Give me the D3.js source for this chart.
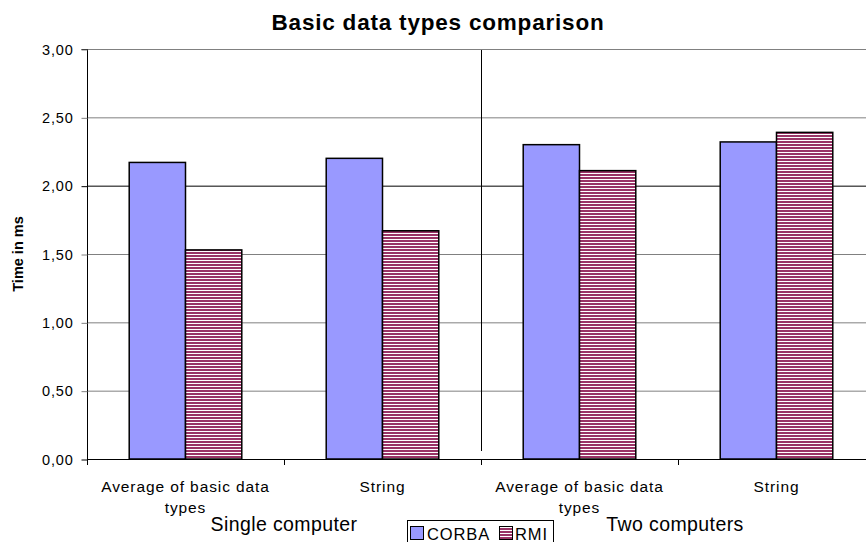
<!DOCTYPE html>
<html>
<head>
<meta charset="utf-8">
<script src="https://cdn.jsdelivr.net/npm/d3@7"></script>
<style>
  html, body { margin: 0; padding: 0; background: #fff; }
  svg { display: block; font-family: Arial, "Liberation Sans", sans-serif; }
</style>
</head>
<body>
<svg id="chart" width="866" height="542"></svg>
<script>
// Measurements (ms) per test case
const categories = ["Average of basic data types", "String", "Average of basic data types", "String"];
const groups = ["Single computer", "Two computers"];
const seriesNames = ["CORBA", "RMI"];
const corbaValues = [2.17, 2.20, 2.30, 2.32];
const rmiValues = [1.53, 1.67, 2.11, 2.39];
const yTicks = [0, 0.5, 1, 1.5, 2, 2.5, 3];

const svg = d3.select("#chart");
const W = 866, H = 542;
const plot = { left: 87, right: 875, top: 49, bottom: 459 };

const x = d3.scaleBand().domain(d3.range(categories.length)).range([plot.left, plot.right]).padding(0);
const y = d3.scaleLinear().domain([0, 3]).range([plot.bottom, plot.top]);

// Horizontal stripe fill for the RMI series
const defs = svg.append("defs");
const pat = defs.append("pattern").attr("id", "stripes")
  .attr("patternUnits", "userSpaceOnUse").attr("width", 8).attr("height", 3);
pat.append("rect").attr("width", 8).attr("height", 3).attr("fill", "#ffffff");
pat.append("rect").attr("y", 0).attr("width", 8).attr("height", 2).attr("fill", "#993366");

// Gridlines
svg.append("g").selectAll("line").data(yTicks.filter(d => d > 0)).join("line")
  .attr("x1", plot.left).attr("x2", plot.right)
  .attr("y1", d => y(d) + 0.5).attr("y2", d => y(d) + 0.5)
  .attr("stroke", d => d === 2 ? "#000" : "#808080").attr("stroke-width", 1);

// Y axis
const yAxis = d3.axisLeft(y).tickValues(yTicks).tickSize(6).tickPadding(8)
  .tickFormat(d => d3.format(".2f")(d).replace(".", ","));
const gy = svg.append("g").attr("transform", `translate(${plot.left + 0.5},0.5)`).call(yAxis);
gy.select(".domain").attr("stroke", "#000").attr("d", `M-6,${plot.top}H0V${plot.bottom}`);
gy.selectAll(".tick line").attr("stroke", d => (d === 2 || d === 0) ? "#000" : "#808080");
gy.selectAll(".tick text").attr("font-size", 14.5).attr("fill", "#000")
  .attr("font-family", "Arial, 'Liberation Sans', sans-serif").style("letter-spacing", "0.8px");

// Bars
const inner = d3.scaleBand().domain([0, 1]).range([0, x.bandwidth()]).paddingInner(0).paddingOuter(0.75);
const barData = [];
categories.forEach((c, i) => {
  barData.push({ i, s: 0, v: corbaValues[i] });
  barData.push({ i, s: 1, v: rmiValues[i] });
});
svg.append("g").selectAll("rect").data(barData).join("rect")
  .attr("x", d => x(d.i) + inner(d.s))
  .attr("y", d => y(d.v))
  .attr("width", inner.bandwidth())
  .attr("height", d => y(0) - y(d.v))
  .attr("fill", d => d.s === 0 ? "#9999FF" : "url(#stripes)")
  .attr("stroke", "#000").attr("stroke-width", 1.5);

// X axis
svg.append("line").attr("x1", plot.left).attr("x2", W)
  .attr("y1", plot.bottom + 0.5).attr("y2", plot.bottom + 0.5).attr("stroke", "#000");
svg.append("g").selectAll("line").data(d3.range(categories.length + 1)).join("line")
  .attr("x1", i => plot.left + i * x.bandwidth() + 0.5)
  .attr("x2", i => plot.left + i * x.bandwidth() + 0.5)
  .attr("y1", plot.bottom).attr("y2", plot.bottom + 6).attr("stroke", "#000");

// Separator between the two setups
svg.append("line")
  .attr("x1", x(2) + 0.5).attr("x2", x(2) + 0.5)
  .attr("y1", 50).attr("y2", 451).attr("stroke", "#000");

// Category labels (wrapped)
const catG = svg.append("g").attr("font-size", 15.5).attr("fill", "#000")
  .attr("text-anchor", "middle").style("letter-spacing", "0.9px");
categories.forEach((c, i) => {
  const cx = x(i) + x.bandwidth() / 2;
  const lines = c.length > 10 ? [c.replace(/ types$/, ""), "types"] : [c];
  lines.forEach((ln, k) => {
    catG.append("text").attr("x", cx).attr("y", 492 + k * 21).text(ln);
  });
});

// Group labels
const groupCenters = [284, 675];
groups.forEach((g, k) => {
  svg.append("text").attr("x", groupCenters[k]).attr("y", 531)
    .attr("text-anchor", "middle").attr("font-size", 19.5).attr("fill", "#000")
    .style("letter-spacing", "0.4px").text(g);
});

// Title
svg.append("text").attr("x", 438).attr("y", 30).attr("text-anchor", "middle")
  .attr("font-size", 22.5).attr("font-weight", "bold").style("letter-spacing", "0.8px")
  .text("Basic data types comparison");

// Y axis title
svg.append("text").attr("transform", "translate(23,254) rotate(-90)")
  .attr("text-anchor", "middle").attr("font-size", 14.5).attr("font-weight", "bold")
  .text("Time in ms");

// Legend
const lg = svg.append("g");
lg.append("rect").attr("x", 407.5).attr("y", 520.5).attr("width", 146).attr("height", 30)
  .attr("fill", "#fff").attr("stroke", "#000");
const legendItems = [
  { name: seriesNames[0], fill: "#9999FF", x: 410, tx: 427 },
  { name: seriesNames[1], fill: "url(#stripes)", x: 499, tx: 515 }
];
legendItems.forEach(it => {
  lg.append("rect").attr("x", it.x + 0.5).attr("y", 526.5).attr("width", 13).attr("height", 13)
    .attr("fill", it.fill).attr("stroke", "#000");
  lg.append("text").attr("x", it.tx).attr("y", 540).attr("font-size", 16.5)
    .style("letter-spacing", "0.9px").text(it.name);
});
</script>
</body>
</html>
